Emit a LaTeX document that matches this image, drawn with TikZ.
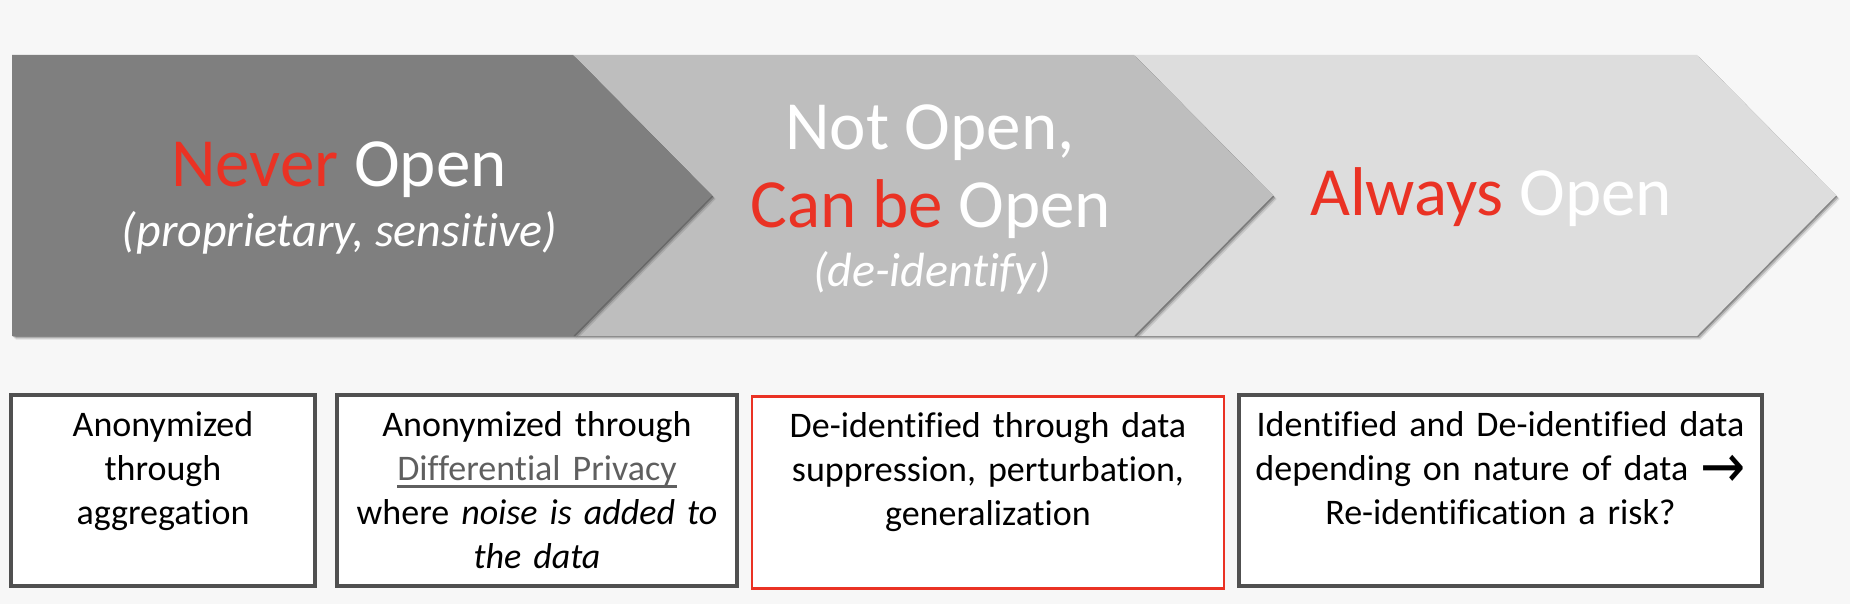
\documentclass[tikz,border=0pt]{standalone}
\usepackage{fontspec}
\setmainfont{Carlito}[Ligatures={TeX,NoCommon}]
\newfontfamily\arrowfont{DejaVu Sans}
\definecolor{bg}{RGB}{247,247,247}
\definecolor{chA}{RGB}{127,127,127}
\definecolor{chB}{RGB}{190,190,190}
\definecolor{chC}{RGB}{221,221,221}
\definecolor{myred}{RGB}{234,50,36}
\definecolor{boxgray}{RGB}{80,80,80}
\definecolor{linkgray}{RGB}{95,95,95}
\newcommand\grayul[1]{\leavevmode\setbox0\hbox{#1}\rlap{\color{linkgray}\rule[-7.5pt]{\wd0}{3pt}}\box0}
\tikzset{
  chshadow/.style={fill=black, opacity=#1},
  ttl/.style={font=\fontsize{69}{78}\selectfont, text=white, inner sep=0pt, anchor=base},
  sbt/.style={font=\fontsize{48}{58}\selectfont\itshape, text=white, inner sep=0pt, anchor=base},
  boxtext/.style={font=\fontsize{36}{44}\selectfont, text=black, align=center, inner sep=0pt, anchor=base},
  graybox/.style={draw=boxgray, line width=3.3pt, fill=white, inner sep=0pt, outer sep=0pt},
  redbox/.style={draw=myred, line width=2.5pt, fill=white, inner sep=0pt, outer sep=0pt},
}
\begin{document}
\begin{tikzpicture}[x=1pt,y=-1pt]
\fill[bg] (0,0) rectangle (1850,604);
\useasboundingbox (0,0) rectangle (1850,604);
% chevron 3
\foreach \d/\o in {1.2/0.25,2.4/0.18,3.6/0.10}{
  \fill[chshadow=\o] ([shift={(\d,\d)}]1134,55) -- ([shift={(\d,\d)}]1697,55) -- ([shift={(\d,\d)}]1836,195.5) -- ([shift={(\d,\d)}]1697,336) -- ([shift={(\d,\d)}]1134,336) -- ([shift={(\d,\d)}]1273,195.5) -- cycle;}
\fill[chC] (1134,55) -- (1697,55) -- (1836,195.5) -- (1697,336) -- (1134,336) -- (1273,195.5) -- cycle;
% chevron 2
\foreach \d/\o in {1.2/0.25,2.4/0.18,3.6/0.10}{
  \fill[chshadow=\o] ([shift={(\d,\d)}]573,55) -- ([shift={(\d,\d)}]1134,55) -- ([shift={(\d,\d)}]1273,195.5) -- ([shift={(\d,\d)}]1134,336) -- ([shift={(\d,\d)}]573,336) -- ([shift={(\d,\d)}]712,195.5) -- cycle;}
\fill[chB] (573,55) -- (1134,55) -- (1273,195.5) -- (1134,336) -- (573,336) -- (712,195.5) -- cycle;
% chevron 1
\foreach \d/\o in {1.2/0.25,2.4/0.18,3.6/0.10}{
  \fill[chshadow=\o] ([shift={(\d,\d)}]12,55) -- ([shift={(\d,\d)}]573,55) -- ([shift={(\d,\d)}]712,195.5) -- ([shift={(\d,\d)}]573,336) -- ([shift={(\d,\d)}]12,336) -- cycle;}
\fill[chA] (12,55) -- (573,55) -- (712,195.5) -- (573,336) -- (12,336) -- cycle;
% chevron texts
\node[ttl] (never) at (339,187) {\textcolor{myred}{Never} Open};
\node[sbt] (prop) at (339.5,247) {(proprietary, sensitive)};
\node[ttl] (notopen) at (930,150) {Not Open,};
\node[ttl] (canbe) at (931,228) {\textcolor{myred}{Can be} Open};
\node[sbt] (deid) at (932,287) {(de-identify)};
\node[ttl] (always) at (1491,216) {\textcolor{myred}{Always} Open};
% boxes
\node[graybox, minimum width=304pt, minimum height=191pt] (b1) at (163,490.5) {};
\node[graybox, minimum width=400pt, minimum height=191pt] (b2) at (537,490.5) {};
\node[redbox, minimum width=472pt, minimum height=192pt] (b3) at (988,492.5) {};
\node[graybox, minimum width=523pt, minimum height=191pt] (b4) at (1500.5,490.5) {};
\node[boxtext, text width=290pt] (t1) at (163,436) {Anonymized\\through\\aggregation};
\node[boxtext, text width=390pt] (t2) at (537,436) {Anonymized through\\\grayul{\textcolor{linkgray}{Differential Privacy}}\\where \textit{noise is added to}\\\textit{the data}};
\node[boxtext, text width=460pt] (t3) at (988,437) {De-identified through data\\suppression, perturbation,\\generalization};
\node[boxtext, text width=515pt] (t4) at (1500.5,436) {Identified and De-identified data\\depending on nature of data {\arrowfont\fontsize{36}{44}\selectfont\raisebox{-7pt}{\scalebox{1.5}[1.7]{→}}}\\Re-identification a risk?};
\end{tikzpicture}
\end{document}
